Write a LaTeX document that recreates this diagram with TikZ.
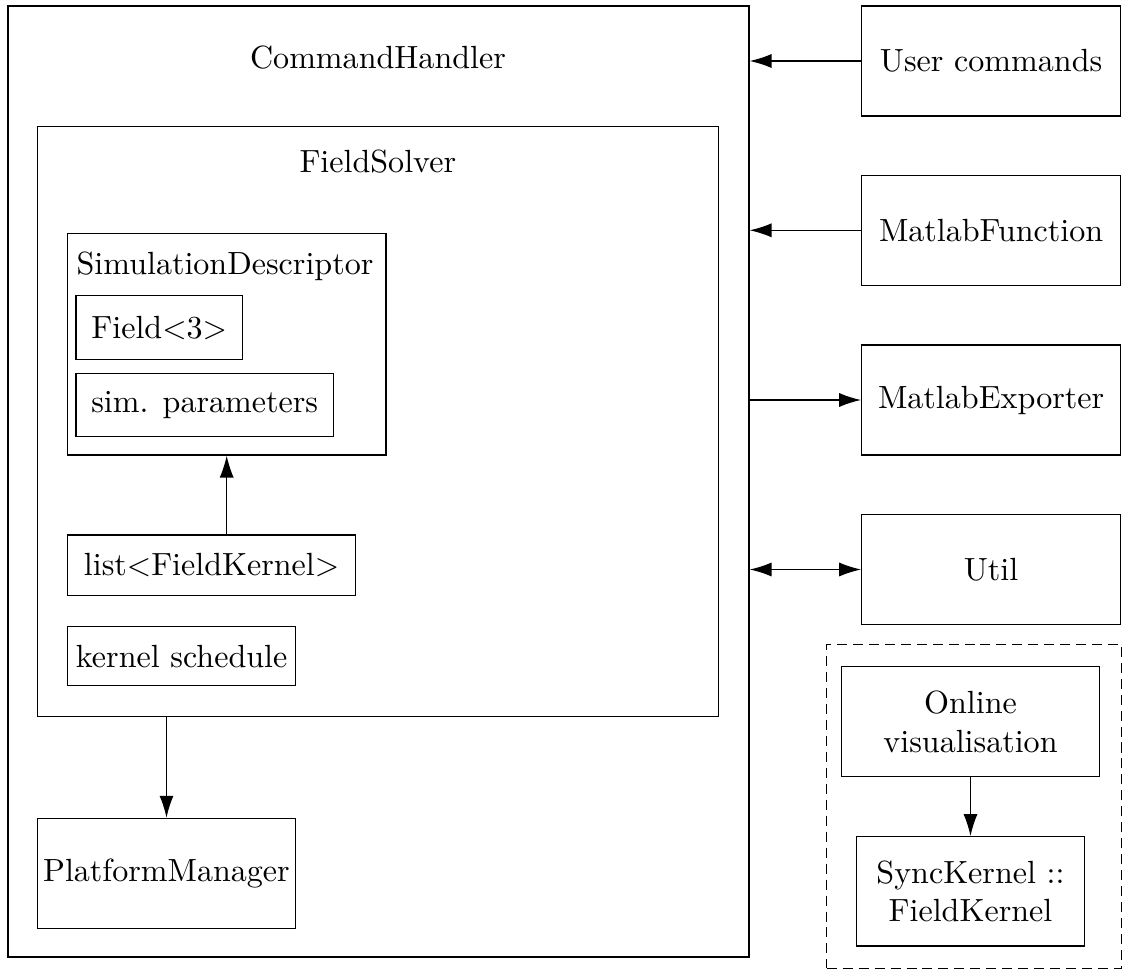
\documentclass[tikz,border=0pt]{standalone}
\usetikzlibrary{arrows.meta}
\newcommand\pxunit{0.3195pt}
\tikzset{
  box/.style 2 args={draw, rectangle, inner sep=0pt, align=center,
    minimum width=#1*\pxunit, minimum height=#2*\pxunit},
  title/.style={anchor=base, inner sep=0pt},
  arr/.style={-{Latex[length=7pt,width=4.5pt]}},
  biarr/.style={{Latex[length=7pt,width=4.5pt]}-{Latex[length=7pt,width=4.5pt]}},
  groupbox/.style 2 args={draw, dash pattern=on 3.2pt off 1.9pt, rectangle,
    inner sep=0pt, minimum width=#1*\pxunit, minimum height=#2*\pxunit}
}
\begin{document}
\begin{tikzpicture}[x=0.3195pt, y=-0.3195pt,
    every node/.append style={font=\fontsize{10.25pt}{12.25pt}\selectfont}]
  \useasboundingbox (0,0) rectangle (1131,970);

  % command handler and its contents
  \node[box={741}{951}] (cmd) at (378.5,481.5) {};
  \node[title] (cmdtitle) at (378,68.3) {CommandHandler};

  \node[box={681}{590}] (solver) at (377.8,421.7) {};
  \node[title] (solvertitle) at (377.8,173) {FieldSolver};

  \node[box={318.5}{221.7}] (simdesc) at (226.7,344.2) {};
  \node[title] (simdesctitle) at (225,274.3) {SimulationDescriptor};
  \node[box={166.3}{63.6}] (field) at (159.2,327.5) {Field$<$3$>$};
  \node[box={257.3}{63.4}] (simpar) at (204.7,405) {sim. parameters};

  \node[box={288.2}{60.7}] (kernlist) at (211.6,565.3) {list$<$FieldKernel$>$};
  \node[box={228.2}{59}] (kernsched) at (181.6,656.2) {kernel schedule};

  \node[box={258.4}{110}] (platform) at (166.5,873.3) {PlatformManager};

  % external components
  \node[box={258.8}{110}] (user) at (991.1,61) {User commands};
  \node[box={258.8}{110}] (mfunc) at (991.1,230.3) {MatlabFunction};
  \node[box={258.8}{110}] (mexp) at (991.1,400) {MatlabExporter};
  \node[box={258.8}{110}] (util) at (991.1,569.5) {Util};

  % visualisation group
  \node[groupbox={295}{324}] (viz) at (974.2,806.3) {};
  \node[box={257.6}{110}] (online) at (970.5,721.7) {Online\\visualisation};
  \node[box={228.3}{109.3}] (sync) at (970.5,891.3) {SyncKernel ::\\FieldKernel};

  % connectors
  \draw[arr] (user.west) -- (user.west -| cmd.east);
  \draw[arr] (mfunc.west) -- (mfunc.west -| cmd.east);
  \draw[arr] (mexp.west -| cmd.east) -- (mexp.west);
  \draw[biarr] (util.west -| cmd.east) -- (util.west);
  \draw[arr] (simdesc.south |- kernlist.north) -- (simdesc.south);
  \draw[arr] (platform.north |- solver.south) -- (platform.north);
  \draw[arr] (online.south) -- (sync.north);
\end{tikzpicture}
\end{document}
